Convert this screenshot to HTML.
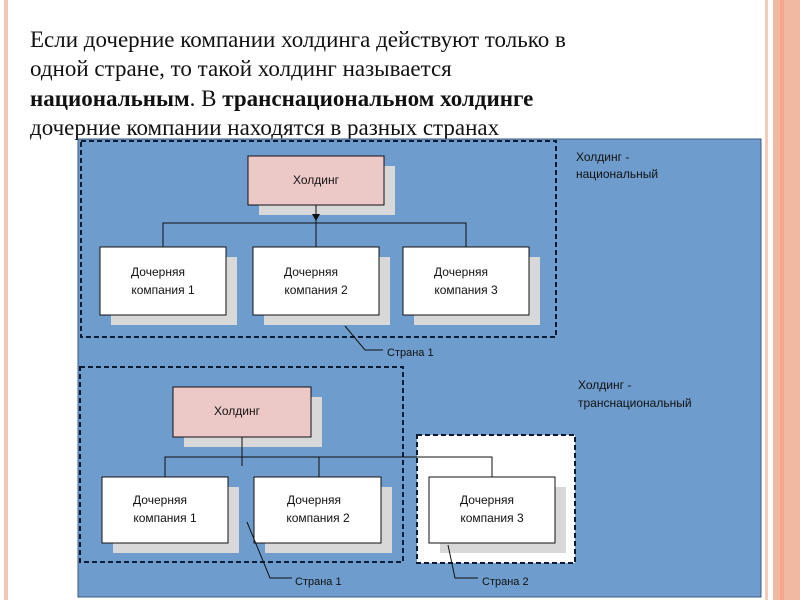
<!DOCTYPE html>
<html><head><meta charset="utf-8"><style>
html,body{margin:0;padding:0;background:#fff;}
body{width:800px;height:600px;position:relative;overflow:hidden;}
.h{position:absolute;left:30px;font-family:"Liberation Serif","Noto Serif CJK SC",serif;font-size:23px;color:#111;white-space:nowrap;line-height:29px;}
</style></head><body>
<div style="position:absolute;left:4px;top:0;width:4px;height:600px;background:#f2c6b4"></div>
<div style="position:absolute;left:765px;top:0;width:3px;height:600px;background:#f4cdb8"></div>
<div style="position:absolute;left:773px;top:0;width:27px;height:600px;background:#f1b8a2"></div>
<div style="position:absolute;left:780px;top:0;width:4px;height:600px;background:#f6a68a"></div>
<div class="h" style="top:25px;">Если дочерние компании холдинга действуют только в</div>
<div class="h" style="top:54px;">одной стране, то такой холдинг называется</div>
<div class="h" style="top:84px;"><b>национальным</b>. В <b>транснациональном холдинге</b></div>
<div class="h" style="top:113px;">дочерние компании находятся в разных странах</div>
<svg width="800" height="600" style="position:absolute;left:0;top:0" font-family="Liberation Sans, sans-serif" font-size="12" fill="#111">
<rect x="78" y="139" width="683" height="458" fill="#6e9ccc" stroke="#3d5a80" stroke-width="1"/>
<rect x="81" y="141" width="475" height="196" fill="none" stroke="#0d1a33" stroke-width="2" stroke-dasharray="5,3"/>
<rect x="80" y="367" width="323" height="195" fill="none" stroke="#0d1a33" stroke-width="2" stroke-dasharray="5,3"/>
<rect x="417" y="435" width="158" height="128" fill="#fff" stroke="#0d1a33" stroke-width="2" stroke-dasharray="5,3"/>
<!-- top -->
<rect x="259" y="166" width="136" height="49" fill="#d8d8d8"/>
<rect x="248" y="156" width="136" height="49" fill="#ecc9c7" stroke="#111"/>
<text x="316" y="184" text-anchor="middle">Холдинг</text>
<line x1="316" y1="205" x2="316" y2="247" stroke="#111"/>
<polygon points="312,214 320,214 316,221" fill="#111"/>
<polyline points="163,247 163,223 466,223 466,247" fill="none" stroke="#111"/>
<g>
<rect x="111" y="257" width="126" height="68" fill="#d8d8d8"/>
<rect x="100" y="247" width="126" height="68" fill="#fff" stroke="#111"/>
<text x="158" y="276" text-anchor="middle">Дочерняя</text><text x="163" y="294" text-anchor="middle">компания  1</text>
<rect x="264" y="257" width="126" height="68" fill="#d8d8d8"/>
<rect x="253" y="247" width="126" height="68" fill="#fff" stroke="#111"/>
<text x="311" y="276" text-anchor="middle">Дочерняя</text><text x="316" y="294" text-anchor="middle">компания  2</text>
<rect x="414" y="257" width="126" height="68" fill="#d8d8d8"/>
<rect x="403" y="247" width="126" height="68" fill="#fff" stroke="#111"/>
<text x="461" y="276" text-anchor="middle">Дочерняя</text><text x="466" y="294" text-anchor="middle">компания  3</text>
</g>
<polyline points="345,326 365,350 383,350" fill="none" stroke="#111"/>
<text x="387" y="356" font-size="11">Страна 1</text>
<text x="576" y="161">Холдинг    -</text>
<text x="576" y="178">национальный</text>
<!-- bottom -->
<rect x="184" y="397" width="138" height="50" fill="#d8d8d8"/>
<rect x="173" y="387" width="138" height="50" fill="#ecc9c7" stroke="#111"/>
<text x="237" y="415" text-anchor="middle">Холдинг</text>
<line x1="242" y1="437" x2="242" y2="466" stroke="#111"/>
<polyline points="165,477 165,457 492,457 492,477" fill="none" stroke="#111"/>
<line x1="319" y1="457" x2="319" y2="477" stroke="#111"/>
<rect x="113" y="487" width="126" height="66" fill="#d8d8d8"/>
<rect x="102" y="477" width="126" height="66" fill="#fff" stroke="#111"/>
<text x="160" y="504" text-anchor="middle">Дочерняя</text><text x="165" y="522" text-anchor="middle">компания  1</text>
<rect x="265" y="487" width="127" height="66" fill="#d8d8d8"/>
<rect x="254" y="477" width="127" height="66" fill="#fff" stroke="#111"/>
<text x="314" y="504" text-anchor="middle">Дочерняя</text><text x="318" y="522" text-anchor="middle">компания  2</text>
<rect x="440" y="487" width="126" height="66" fill="#d8d8d8"/>
<rect x="429" y="477" width="126" height="66" fill="#fff" stroke="#111"/>
<text x="487" y="504" text-anchor="middle">Дочерняя</text><text x="492" y="522" text-anchor="middle">компания  3</text>
<polyline points="247,522 270,578 292,578" fill="none" stroke="#111"/>
<text x="295" y="585" font-size="11">Страна 1</text>
<polyline points="448,545 455,578 478,578" fill="none" stroke="#111"/>
<text x="482" y="585" font-size="11">Страна 2</text>
<text x="578" y="389">Холдинг    -</text>
<text x="578" y="407">транснациональный</text>
</svg>
</body></html>
